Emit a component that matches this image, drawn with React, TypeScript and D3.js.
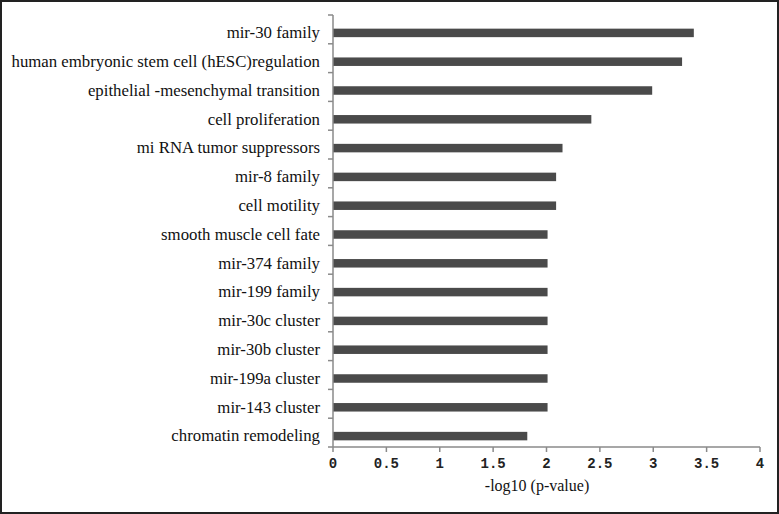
import React, { useEffect, useRef } from 'react';
import * as d3 from 'd3';

const categories = [
  'mir-30 family',
  'human embryonic stem cell (hESC)regulation',
  'epithelial -mesenchymal transition',
  'cell proliferation',
  'mi RNA tumor suppressors',
  'mir-8 family',
  'cell motility',
  'smooth muscle cell fate',
  'mir-374 family',
  'mir-199 family',
  'mir-30c cluster',
  'mir-30b cluster',
  'mir-199a cluster',
  'mir-143 cluster',
  'chromatin remodeling',
];
const values = [3.38, 3.27, 2.99, 2.42, 2.15, 2.09, 2.09, 2.01, 2.01, 2.01, 2.01, 2.01, 2.01, 2.01, 1.82];
const xTicks = [0, 0.5, 1, 1.5, 2, 2.5, 3, 3.5, 4];
const xTitle = '-log10 (p-value)';

const W = 779;
const H = 514;

const App = () => {
  const svgRef = useRef<SVGSVGElement>(null);

  useEffect(() => {
    const svg = d3.select(svgRef.current);
    svg.selectAll('*').remove();

    // outer frame
    svg.append('rect')
      .attr('x', 1).attr('y', 1)
      .attr('width', W - 2).attr('height', H - 2)
      .attr('fill', '#fff').attr('stroke', '#222').attr('stroke-width', 2);

    const yTop = 15;
    const yBot = 447;
    const x = d3.scaleLinear().domain([0, 4]).range([333, 760]);
    const y = d3.scaleBand().domain(categories).range([yTop, yBot]);
    const barH = 8.5;
    const shift = 3.5; // bars sit a bit below band centre, as in the original
    const mid = (d: string) => y(d)! + y.bandwidth() / 2 + shift;

    const axisColor = '#8a8a8a';

    // bars
    svg.append('g')
      .selectAll('rect')
      .data(values)
      .join('rect')
      .attr('x', x(0))
      .attr('y', (_, i) => mid(categories[i]) - barH / 2)
      .attr('width', d => x(d) - x(0))
      .attr('height', barH)
      .attr('fill', '#4a4a4a');

    // y axis
    svg.append('line')
      .attr('x1', x(0)).attr('x2', x(0))
      .attr('y1', yTop).attr('y2', yBot)
      .attr('stroke', axisColor).attr('stroke-width', 1.5);
    svg.append('g')
      .selectAll('line')
      .data(d3.range(categories.length + 1))
      .join('line')
      .attr('x1', x(0) - 5).attr('x2', x(0))
      .attr('y1', i => yTop + i * y.step())
      .attr('y2', i => yTop + i * y.step())
      .attr('stroke', axisColor).attr('stroke-width', 1.5);

    svg.append('g')
      .selectAll('text')
      .data(categories)
      .join('text')
      .attr('x', 320)
      .attr('y', d => mid(d))
      .attr('dy', '0.32em')
      .attr('text-anchor', 'end')
      .attr('font-family', '"Liberation Serif", serif')
      .attr('font-size', 16.8)
      .attr('fill', '#111')
      .text(d => d);

    // x axis
    svg.append('line')
      .attr('x1', x(0)).attr('x2', x(4))
      .attr('y1', yBot).attr('y2', yBot)
      .attr('stroke', axisColor).attr('stroke-width', 1.5);
    svg.append('g')
      .selectAll('line')
      .data(xTicks)
      .join('line')
      .attr('x1', d => x(d)).attr('x2', d => x(d))
      .attr('y1', yBot).attr('y2', yBot + 5)
      .attr('stroke', axisColor).attr('stroke-width', 1.5);
    svg.append('g')
      .selectAll('text')
      .data(xTicks)
      .join('text')
      .attr('x', d => x(d))
      .attr('y', 468)
      .attr('text-anchor', 'middle')
      .attr('font-family', '"Liberation Mono", monospace')
      .attr('font-size', 14)
      .attr('font-weight', 'bold')
      .attr('fill', '#222')
      .text(d => String(d));

    svg.append('text')
      .attr('x', 537)
      .attr('y', 491)
      .attr('text-anchor', 'middle')
      .attr('font-family', '"Liberation Serif", serif')
      .attr('font-size', 16)
      .attr('fill', '#111')
      .text(xTitle);
  }, []);

  return (
    <div style={{ position: 'absolute', left: 0, top: 0 }}>
      <svg ref={svgRef} width={W} height={H} style={{ display: 'block' }} />
    </div>
  );
};

export default App;
